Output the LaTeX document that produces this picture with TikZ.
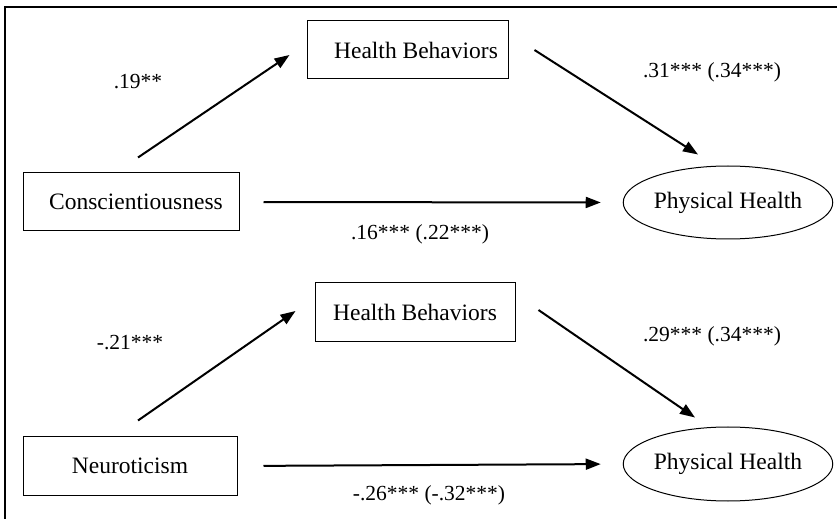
\documentclass[tikz,border=0pt]{standalone}
\usepackage{fontspec}
\setmainfont{Liberation Serif}
\usetikzlibrary{arrows.meta,shapes.geometric}

\begin{document}
\begin{tikzpicture}[
  x=0.5pt, y=-0.5pt,
  medbox/.style = {draw, line width=0.5pt, inner sep=0pt, minimum height=29pt,
    font=\fontsize{11.75}{14}\selectfont},
  medoval/.style = {draw, ellipse, line width=0.5pt, inner sep=0pt,
    minimum width=102pt, minimum height=36.5pt, font=\fontsize{11.75}{14}\selectfont},
  medpath/.style = {line width=1pt, -{Triangle[length=7.5pt,width=5.5pt]}},
  medlbl/.style = {font=\fontsize{10.75}{13}\selectfont}
]
  \useasboundingbox (0,0) rectangle (837,519);
  % frame
  \draw[line width=0.75pt] (5,7) rectangle (850,530);
  % conscientiousness model
  \node[medbox, minimum width=108pt] (consc) at (131,202) {\hspace{5pt}Conscientiousness};
  \node[medbox, minimum width=100.5pt] (hbtop) at (407.5,50) {\hspace{8.5pt}Health Behaviors};
  \node[medoval] (phtop) at (728,202.5) {Physical Health};
  \draw[medpath] ([shift={(7,-15)}]consc.north) -- ([shift={(-17,5)}]hbtop.west);
  \draw[medpath] ([shift={(26,0)}]hbtop.east) -- ([shift={(-30,-11)}]phtop.north);
  \draw[medpath, shorten <=12pt, shorten >=11pt] (consc.east) -- (phtop.west);
  \node[medlbl] (acons) at (138,82) {.19**};
  \node[medlbl] (bcons) at (712,72) {.31*** (.34***)};
  \node[medlbl] (ccons) at (420,234) {.16*** (.22***)};
  % neuroticism model
  \node[medbox, minimum width=107pt] (neuro) at (130,466) {Neuroticism};
  \node[medbox, minimum width=100pt, minimum height=29.5pt] (hbbot) at (415,312.5) {Health Behaviors};
  \node[medoval, minimum height=37pt] (phbot) at (728,464) {Physical Health};
  \draw[medpath] ([shift={(8,-16)}]neuro.north) -- ([shift={(-19,-1.5)}]hbbot.west);
  \draw[medpath] ([shift={(23,-2.5)}]hbbot.east) -- ([shift={(-33,-9)}]phbot.north);
  \draw[medpath, shorten <=13pt, shorten >=11pt] (neuro.east) -- (phbot.west);
  \node[medlbl] (aneur) at (130,343) {-.21***};
  \node[medlbl] (bneur) at (712,336) {.29*** (.34***)};
  \node[medlbl] (cneur) at (429,495) {-.26*** (-.32***)};
\end{tikzpicture}
\end{document}
